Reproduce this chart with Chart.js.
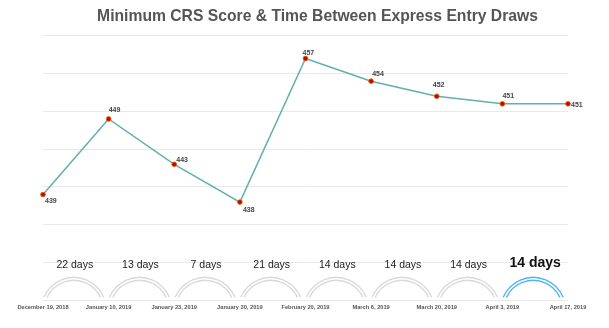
<!DOCTYPE html>
<html>
<head>
<meta charset="utf-8">
<script src="https://cdn.jsdelivr.net/npm/chart.js@4"></script>
<style>
html,body{margin:0;padding:0;background:#fff;}
#wrap{width:609px;height:328px;position:relative;}
</style>
</head>
<body>
<div id="wrap"><canvas id="c" width="609" height="328"></canvas></div>
<script>
const drawDates = ['December 19, 2018','January 10, 2019','January 23, 2019','January 30, 2019','February 20, 2019','March 6, 2019','March 20, 2019','April 3, 2019','April 17, 2019'];
const minCrsScores = [439, 449, 443, 438, 457, 454, 452, 451, 451];
const daysBetween = [22, 13, 7, 21, 14, 14, 14, 14];
const yTicks = [425, 430, 435, 440, 445, 450, 455, 460];

const labelOffsets = [[2,3],[0,-12],[2,-8],[3,4],[-3,-9],[1,-11],[-4,-15],[0,-11],[3,-2]];

const arcsPlugin = {
  id: 'arcsPlugin',
  afterDatasetsDraw(chart) {
    const ctx = chart.ctx;
    const xs = chart.scales.x;
    const ys = chart.scales.y;
    const base = ys.getPixelForValue(yTicks[0]);
    ctx.save();
    for (let i = 0; i < daysBetween.length; i++) {
      const x0 = xs.getPixelForValue(i), x1 = xs.getPixelForValue(i + 1);
      const cx = (x0 + x1) / 2 - 2;
      const last = i === daysBetween.length - 1;
      const cy = base + 9.5;
      ctx.strokeStyle = last ? '#4db6f2' : '#d9d9d9';
      ctx.lineWidth = 1.3;
      [32.5, 29.5].forEach(r => {
        const dy = cy - (base - 3);
        const a = Math.acos(Math.min(1, dy / r));
        ctx.beginPath();
        ctx.arc(cx, cy, r, -Math.PI / 2 - a, -Math.PI / 2 + a);
        ctx.stroke();
      });
      ctx.textAlign = 'center';
      ctx.textBaseline = 'middle';
      if (last) {
        ctx.fillStyle = '#111';
        ctx.font = 'bold 14px "Liberation Sans", Arial, sans-serif';
        ctx.fillText(daysBetween[i] + ' days', cx + 2, base - 37);
      } else {
        ctx.fillStyle = '#222';
        ctx.font = '10.5px "Liberation Sans", Arial, sans-serif';
        ctx.fillText(daysBetween[i] + ' days', cx + 1, base - 35);
      }
    }
    // data labels
    const meta = chart.getDatasetMeta(0);
    ctx.fillStyle = '#444';
    ctx.font = 'bold 7px "Liberation Sans", Arial, sans-serif';
    ctx.textAlign = 'left';
    ctx.textBaseline = 'top';
    meta.data.forEach((pt, i) => {
      const o = labelOffsets[i];
      ctx.fillText(String(minCrsScores[i]), pt.x + o[0], pt.y + o[1]);
    });
    ctx.restore();
  }
};

new Chart(document.getElementById('c'), {
  type: 'line',
  data: {
    labels: drawDates,
    datasets: [{
      data: minCrsScores,
      borderColor: '#62b0ad',
      borderWidth: 1.5,
      backgroundColor: '#cc0000',
      pointBackgroundColor: '#cc0000',
      pointBorderColor: '#e06a00',
      pointBorderWidth: 0.8,
      pointRadius: 2.4,
      tension: 0,
      fill: false
    }]
  },
  options: {
    responsive: false,
    animation: false,
    events: [],
    layout: { padding: { left: 43, right: 17, top: 0, bottom: 13.6 } },
    plugins: {
      legend: { display: false },
      tooltip: { enabled: false },
      title: {
        display: true,
        text: 'Minimum CRS Score & Time Between Express Entry Draws',
        color: '#555',
        font: { family: '"Liberation Sans", Arial, sans-serif', size: 15.7, weight: 'bold', lineHeight: 1.2 },
        padding: { top: 7.4, bottom: 9.6 }
      }
    },
    scales: {
      x: {
        offset: false,
        grid: { display: false, drawTicks: false },
        border: { display: false },
        ticks: {
          autoSkip: false, maxRotation: 0, minRotation: 0,
          padding: 3.6,
          color: '#555',
          font: { family: '"Liberation Sans", Arial, sans-serif', size: 5.7, weight: 'bold', lineHeight: 1.2 }
        }
      },
      y: {
        position: 'right',
        min: 425, max: 460,
        afterFit(scale) { scale.width = 24; },
        afterBuildTicks(scale) { scale.ticks = yTicks.map(v => ({ value: v })); },
        grid: { color: '#e9e9e9', lineWidth: 1, drawTicks: false },
        border: { display: false },
        ticks: { display: false }
      }
    }
  },
  plugins: [arcsPlugin]
});
</script>
</body>
</html>
